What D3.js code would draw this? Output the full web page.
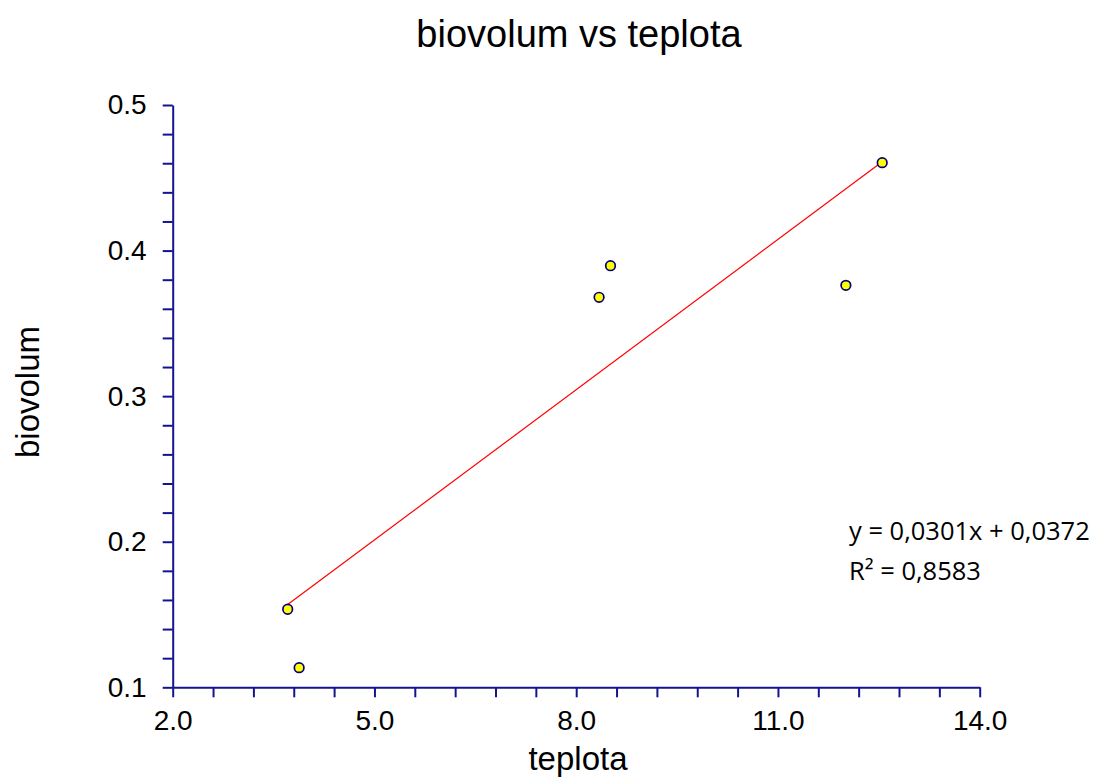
<!DOCTYPE html>
<html>
<head>
<meta charset="utf-8">
<script src="https://cdn.jsdelivr.net/npm/d3@7"></script>
<style>
  html, body { margin: 0; padding: 0; background: #ffffff; }
  svg { display: block; }
</style>
</head>
<body>
<svg id="chart" width="1103" height="781"></svg>
<script>
// ---- data ----
const teplota  = [3.71, 3.88, 8.34, 8.51, 12.01, 12.55];
const biovolum = [0.1536, 0.1135, 0.3679, 0.3896, 0.3761, 0.4604];
const xTickValues = d3.range(0, 21).map(i => +(2 + i * 0.6).toFixed(1));
const xLabelValues = [2.0, 5.0, 8.0, 11.0, 14.0];
const yTickValues = d3.range(0, 21).map(i => +(0.1 + i * 0.02).toFixed(2));
const yLabelValues = [0.1, 0.2, 0.3, 0.4, 0.5];
const titleText = "biovolum vs teplota";
const xTitle = "teplota";
const yTitle = "biovolum";
const equationLines = ["y = 0,0301x + 0,0372", "R² = 0,8583"];

// ---- layout ----
const svg = d3.select("#chart");
const mLeft = 172.7, mRight = 979.7, mTop = 105, mBottom = 687.3;
const axisColor = "#14148c";
const arial = "'Liberation Sans', Arial, sans-serif";

const x = d3.scaleLinear().domain([2, 14]).range([mLeft, mRight]);
const y = d3.scaleLinear().domain([0.1, 0.5]).range([mBottom, mTop]);

const isLabel = (arr, v) => arr.some(a => Math.abs(a - v) < 1e-6);

// x axis
const gx = svg.append("g").attr("transform", `translate(0,${mBottom})`)
  .call(d3.axisBottom(x).tickValues(xTickValues).tickSizeOuter(0).tickSizeInner(10).tickPadding(12.5)
    .tickFormat(d => isLabel(xLabelValues, d) ? d3.format(".1f")(d) : ""));
gx.attr("font-size", null).attr("font-family", null);
gx.select(".domain").attr("stroke", axisColor).attr("stroke-width", 2);
gx.selectAll(".tick line").attr("stroke", axisColor).attr("stroke-width", 2);
gx.selectAll(".tick text").attr("fill", "#000").attr("font-family", arial).attr("font-size", 28);

// y axis
const gy = svg.append("g").attr("transform", `translate(${mLeft},0)`)
  .call(d3.axisLeft(y).tickValues(yTickValues).tickSizeOuter(0).tickSizeInner(10).tickPadding(16)
    .tickFormat(d => isLabel(yLabelValues, d) ? d3.format(".1f")(d) : ""));
gy.attr("font-size", null).attr("font-family", null);
gy.select(".domain").attr("stroke", axisColor).attr("stroke-width", 2);
gy.selectAll(".tick line").attr("stroke", axisColor).attr("stroke-width", 2);
gy.selectAll(".tick text").attr("fill", "#000").attr("font-family", arial).attr("font-size", 28);

// regression line (least squares of plotted data)
const mx = d3.mean(teplota), my = d3.mean(biovolum);
const sxy = d3.sum(teplota, (v, i) => (v - mx) * (biovolum[i] - my));
const sxx = d3.sum(teplota, v => (v - mx) ** 2);
const slope = sxy / sxx, intercept = my - slope * mx;
const [xmin, xmax] = d3.extent(teplota);
svg.append("path")
  .datum([xmin, xmax])
  .attr("d", d3.line().x(d => x(d)).y(d => y(intercept + slope * d)))
  .attr("fill", "none").attr("stroke", "#ff0000").attr("stroke-width", 1.2);

// points
svg.append("g").selectAll("circle")
  .data(teplota.map((v, i) => [v, biovolum[i]]))
  .join("circle")
  .attr("cx", d => x(d[0])).attr("cy", d => y(d[1])).attr("r", 4.8)
  .attr("fill", "#ffff00").attr("stroke", "#000080").attr("stroke-width", 1.7);

// titles
svg.append("text").attr("x", 579).attr("y", 47).attr("text-anchor", "middle")
  .attr("font-family", arial).attr("font-size", 38)
  .text(titleText);
svg.append("text").attr("x", 578).attr("y", 770).attr("text-anchor", "middle")
  .attr("font-family", arial).attr("font-size", 33)
  .text(xTitle);
svg.append("text").attr("transform", "translate(39,392) rotate(-90)").attr("text-anchor", "middle")
  .attr("font-family", arial).attr("font-size", 33)
  .text(yTitle);

// equation
svg.append("g").selectAll("text").data(equationLines).join("text")
  .attr("x", 849).attr("y", (d, i) => 540 + i * 40)
  .attr("font-family", "'Open Sans', sans-serif").attr("font-size", 25.5)
  .attr("fill", "#000")
  .text(d => d);
</script>
</body>
</html>
